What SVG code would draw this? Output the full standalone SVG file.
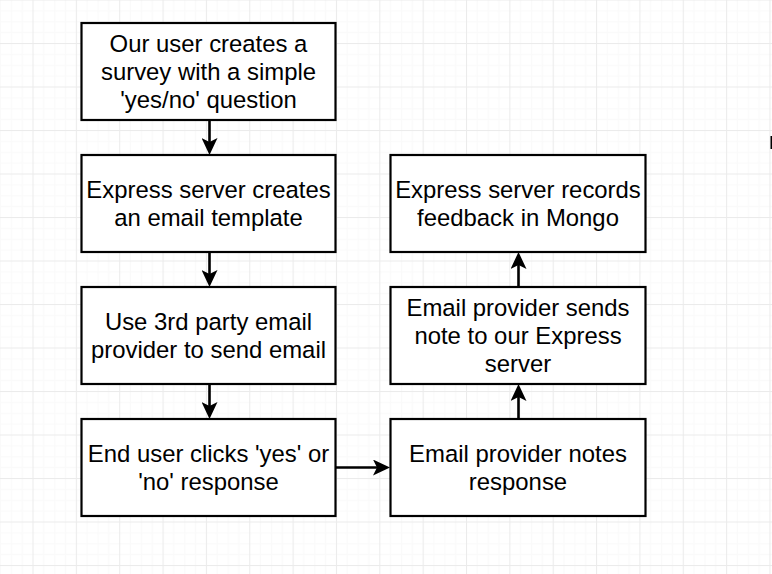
<svg xmlns="http://www.w3.org/2000/svg" width="772" height="574" viewBox="0 0 772 574">
  <defs>
    <pattern id="grid" patternUnits="userSpaceOnUse" x="32.5" y="-0.5" width="43.35" height="43.5">
      <rect x="0" y="0" width="43.35" height="43.5" fill="#ffffff"/>
      <g fill="#fafafa">
        <rect x="10.8" y="0" width="1" height="43.5"/>
        <rect x="21.7" y="0" width="1" height="43.5"/>
        <rect x="32.5" y="0" width="1" height="43.5"/>
        <rect x="0" y="10.9" width="43.35" height="1"/>
        <rect x="0" y="21.75" width="43.35" height="1"/>
        <rect x="0" y="32.6" width="43.35" height="1"/>
      </g>
      <g fill="#ebebeb">
        <rect x="0" y="0" width="1" height="43.5"/>
        <rect x="0" y="0" width="43.35" height="1"/>
      </g>
    </pattern>
    <marker id="arrow" viewBox="0 0 17 16" refX="12" refY="8" markerWidth="17" markerHeight="16" markerUnits="userSpaceOnUse" orient="auto">
      <path d="M17,8 L0,0 L4,8 L0,16 Z" fill="#000000"/>
    </marker>
    <style>
      .box { fill: #ffffff; stroke: #000000; stroke-width: 2.2; }
      .lbl { font-family: "Liberation Sans", Arial, Helvetica, sans-serif; font-size: 23.9px; fill: #000000; text-anchor: middle; }
      .conn { fill: none; stroke: #000000; stroke-width: 2.6; marker-end: url(#arrow); }
    </style>
  </defs>
  <rect x="0" y="0" width="772" height="574" fill="url(#grid)"/>
  <rect x="770.5" y="136" width="2" height="13" fill="#000000"/>

  <g id="connectors">
    <path class="conn" d="M209.5,120 L209.5,150"/>
    <path class="conn" d="M209.5,252 L209.5,282"/>
    <path class="conn" d="M209.5,384 L209.5,414"/>
    <path class="conn" d="M336,467.5 L385,467.5"/>
    <path class="conn" d="M518.5,419 L518.5,389"/>
    <path class="conn" d="M518.5,287 L518.5,257"/>
  </g>

  <g id="n1">
    <rect class="box" x="81.5" y="23" width="254" height="97"/>
    <text class="lbl" x="208.5" y="51.5">Our user creates a</text>
    <text class="lbl" x="208.5" y="79.8">survey with a simple</text>
    <text class="lbl" x="208.5" y="108.1">'yes/no' question</text>
  </g>
  <g id="n2">
    <rect class="box" x="81.5" y="155" width="254" height="97"/>
    <text class="lbl" x="208.5" y="197.5">Express server creates</text>
    <text class="lbl" x="208.5" y="225.8">an email template</text>
  </g>
  <g id="n3">
    <rect class="box" x="81.5" y="287" width="254" height="97"/>
    <text class="lbl" x="208.5" y="329.5">Use 3rd party email</text>
    <text class="lbl" x="208.5" y="357.8">provider to send email</text>
  </g>
  <g id="n4">
    <rect class="box" x="81.5" y="419" width="254" height="97"/>
    <text class="lbl" x="208.5" y="461.5">End user clicks 'yes' or</text>
    <text class="lbl" x="208.5" y="489.8">'no' response</text>
  </g>
  <g id="n5">
    <rect class="box" x="390.5" y="419" width="255" height="97"/>
    <text class="lbl" x="518" y="461.5">Email provider notes</text>
    <text class="lbl" x="518" y="489.8">response</text>
  </g>
  <g id="n6">
    <rect class="box" x="390.5" y="287" width="255" height="97"/>
    <text class="lbl" x="518" y="315.5">Email provider sends</text>
    <text class="lbl" x="518" y="343.8">note to our Express</text>
    <text class="lbl" x="518" y="372.1">server</text>
  </g>
  <g id="n7">
    <rect class="box" x="390.5" y="155" width="255" height="97"/>
    <text class="lbl" x="518" y="197.5">Express server records</text>
    <text class="lbl" x="518" y="225.8">feedback in Mongo</text>
  </g>
</svg>
